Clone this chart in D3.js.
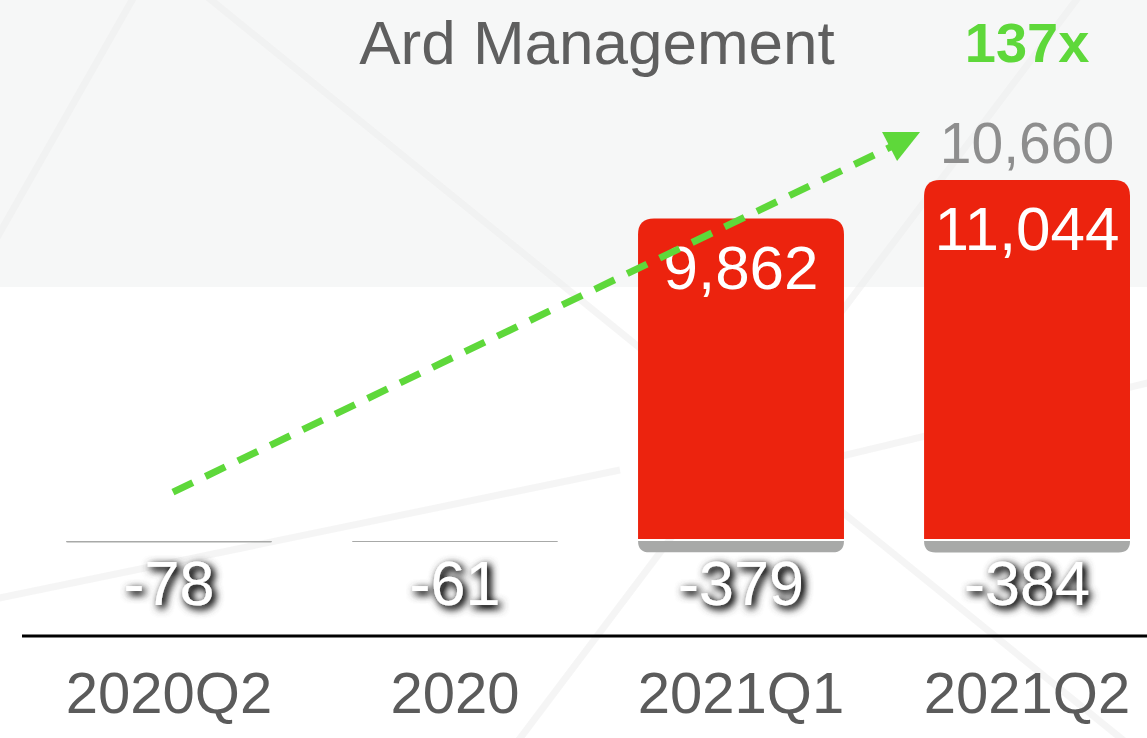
<!DOCTYPE html>
<html>
<head>
<meta charset="utf-8">
<script src="https://cdn.jsdelivr.net/npm/d3@7"></script>
<style>
  html, body { margin: 0; padding: 0; background: #fff; }
  svg { display: block; font-family: "Liberation Sans", Arial, sans-serif; }
</style>
</head>
<body>
<svg id="chart"></svg>
<script>
// data
const categories = ["2020Q2", "2020", "2021Q1", "2021Q2"];
const positives = [0, 0, 9862, 11044];
const negatives = [-78, -61, -379, -384];
const title = "Ard Management";
const growth = "137x";
// arrow goes from a low value on the first bar up toward the net figure of the last one
const arrowFrom = { cat: "2020Q2", value: 1470 };
const arrowTo = { value: 12120 };

const width = 1147, height = 738;
const red = "#ec230e", grey = "#a8a9a8", green = "#5ed83a";

// plain hyphen for negatives, like the original
const fmt = d3.formatLocale({ decimal: ".", thousands: ",", grouping: [3], currency: ["", ""], minus: "-" }).format(",");

const svg = d3.select("#chart")
    .attr("width", width)
    .attr("height", height);

// background: light band on top, white below, some faint diagonal lines
svg.append("rect").attr("width", width).attr("height", height).attr("fill", "#fff");
svg.append("rect").attr("width", width).attr("height", 287).attr("fill", "#f6f7f7");
const deco = [[-10, 250, 135, -5], [205, -5, 1160, 770], [1080, -5, 515, 745], [-10, 600, 620, 470], [700, 490, 1160, 380]];
svg.append("g").selectAll("line")
    .data(deco)
    .enter().append("line")
    .attr("x1", d => d[0]).attr("y1", d => d[1])
    .attr("x2", d => d[2]).attr("y2", d => d[3])
    .attr("stroke", "#eeeeee")
    .attr("stroke-width", 7)
    .attr("opacity", 0.55);

// soft grey shadow behind the negative labels
const defs = svg.append("defs");
const f = defs.append("filter").attr("id", "shadow")
    .attr("x", "-30%").attr("y", "-40%").attr("width", "170%").attr("height", "180%");
f.append("feGaussianBlur").attr("in", "SourceAlpha").attr("stdDeviation", 4.5).attr("result", "blur");
f.append("feOffset").attr("in", "blur").attr("dx", 3).attr("dy", 3).attr("result", "off");
f.append("feComponentTransfer").attr("in", "off").attr("result", "dark")
    .append("feFuncA").attr("type", "linear").attr("slope", 2);
f.append("feFlood").attr("flood-color", "#3a3a3a").attr("result", "col");
f.append("feComposite").attr("in", "col").attr("in2", "dark").attr("operator", "in").attr("result", "shadow");
const merge = f.append("feMerge");
merge.append("feMergeNode").attr("in", "shadow");
merge.append("feMergeNode").attr("in", "SourceGraphic");

const x = d3.scaleBand()
    .domain(categories)
    .range([66, 1130])
    .paddingInner(0.28)
    .paddingOuter(0);

const y = d3.scaleLinear()
    .domain([0, d3.max(positives)])
    .range([540, 180]);

const bw = x.bandwidth();
const rows = categories.map((c, i) => ({ cat: c, pos: positives[i], neg: negatives[i] }));

// path with rounded top or bottom corners only
function roundRect(x0, y0, w, h, r, top) {
    r = Math.min(r, h, w / 2);
    if (h <= 0) return "";
    if (top) {
        return `M${x0},${y0 + h}V${y0 + r}Q${x0},${y0} ${x0 + r},${y0}H${x0 + w - r}Q${x0 + w},${y0} ${x0 + w},${y0 + r}V${y0 + h}Z`;
    }
    return `M${x0},${y0}H${x0 + w}V${y0 + h - r}Q${x0 + w},${y0 + h} ${x0 + w - r},${y0 + h}H${x0 + r}Q${x0},${y0 + h} ${x0},${y0 + h - r}Z`;
}

// negative part (grey) under the zero line
svg.selectAll(".neg")
    .data(rows)
    .enter().append("path")
    .attr("class", "neg")
    .attr("fill", grey)
    .attr("d", d => roundRect(x(d.cat), y(0) + 1, bw, y(d.neg) - y(0) - 1, 12, false));

// positive bars
svg.selectAll(".bar")
    .data(rows.filter(d => d.pos > 0))
    .enter().append("path")
    .attr("class", "bar")
    .attr("fill", red)
    .attr("d", d => roundRect(x(d.cat), y(d.pos), bw, y(0) - y(d.pos) - 1, 16, true));

// value labels inside bars
svg.selectAll(".val")
    .data(rows.filter(d => d.pos > 0))
    .enter().append("text")
    .attr("class", "val")
    .attr("x", d => x(d.cat) + bw / 2)
    .attr("y", d => y(d.pos) + 70)
    .attr("text-anchor", "middle")
    .attr("fill", "#fff")
    .attr("font-size", 62)
    .text(d => fmt(d.pos));

// negative labels with shadow
svg.selectAll(".negval")
    .data(rows)
    .enter().append("text")
    .attr("class", "negval")
    .attr("x", d => x(d.cat) + bw / 2)
    .attr("y", 605)
    .attr("text-anchor", "middle")
    .attr("fill", "#fff")
    .attr("font-size", 63)
    .attr("filter", "url(#shadow)")
    .text(d => fmt(d.neg));

// axis
const axis = svg.append("g")
    .attr("transform", "translate(0,636)")
    .call(d3.axisBottom(x).tickSize(0).tickPadding(36));
axis.select(".domain").remove();
axis.append("line")
    .attr("x1", 22).attr("x2", width)
    .attr("stroke", "#000").attr("stroke-width", 3);
axis.selectAll("text")
    .attr("font-family", "Liberation Sans, Arial, sans-serif")
    .attr("font-size", 58)
    .attr("fill", "#5b5b5b");

// title and growth multiple
svg.append("text")
    .attr("x", 597).attr("y", 64)
    .attr("text-anchor", "middle")
    .attr("font-size", 62)
    .attr("fill", "#5f5f5f")
    .text(title);

const last = rows[rows.length - 1];
const lastX = x(last.cat) + bw / 2;
svg.append("text")
    .attr("x", lastX).attr("y", 62)
    .attr("text-anchor", "middle")
    .attr("font-size", 56)
    .attr("font-weight", "bold")
    .attr("fill", green)
    .text(growth);

// net value of the last period above its bar
svg.append("text")
    .attr("x", lastX).attr("y", y(last.pos) - 17)
    .attr("text-anchor", "middle")
    .attr("font-size", 57)
    .attr("fill", "#8e8e8e")
    .text(fmt(last.pos + last.neg));

// dashed green arrow
const ax0 = x(arrowFrom.cat) + bw / 2 + 4, ay0 = y(arrowFrom.value);
const ax1 = x(last.cat) - 29, ay1 = y(arrowTo.value);
svg.append("line")
    .attr("x1", ax0).attr("y1", ay0)
    .attr("x2", ax1).attr("y2", ay1)
    .attr("stroke", green)
    .attr("stroke-width", 7)
    .attr("stroke-dasharray", "22,14");
svg.append("path")
    .attr("d", `M${ax1 - 13},${ay1 - 13}L${ax1 + 25},${ay1 - 13}L${ax1 + 2},${ay1 + 16}Z`)
    .attr("fill", green);
</script>
</body>
</html>
